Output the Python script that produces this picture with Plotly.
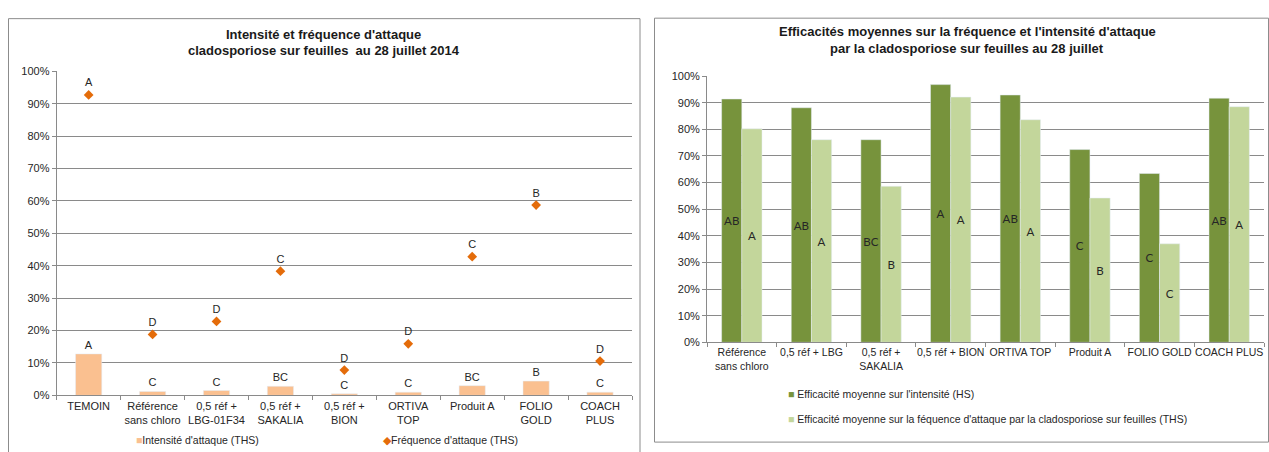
import plotly.graph_objects as go

# ---------------- data ----------------
cats_left = ["TEMOIN", "Référence<br>sans chloro", "0,5 réf +<br>LBG-01F34", "0,5 réf +<br>SAKALIA",
             "0,5 réf +<br>BION", "ORTIVA<br>TOP", "Produit A", "FOLIO<br>GOLD", "COACH<br>PLUS"]
intensite = [0.128, 0.012, 0.015, 0.028, 0.005, 0.010, 0.030, 0.044, 0.010]
frequence = [0.927, 0.188, 0.228, 0.383, 0.078, 0.159, 0.428, 0.587, 0.106]
lettres_intensite = ["A", "C", "C", "BC", "C", "C", "BC", "B", "C"]
lettres_frequence = ["A", "D", "D", "C", "D", "D", "C", "B", "D"]

cats_right = ["Référence<br>sans chloro", "0,5 réf + LBG", "0,5 réf +<br>SAKALIA", "0,5 réf + BION",
              "ORTIVA TOP", "Produit A", "FOLIO GOLD", "COACH PLUS"]
eff_intensite = [0.914, 0.881, 0.761, 0.968, 0.929, 0.724, 0.634, 0.917]
eff_frequence = [0.802, 0.761, 0.586, 0.921, 0.836, 0.542, 0.370, 0.885]
lettres_eff_int = ["AB", "AB", "BC", "A", "AB", "C", "C", "AB"]
lettres_eff_freq = ["A", "A", "B", "A", "A", "B", "C", "A"]

title_left = ["Intensité et fréquence d'attaque", "cladosporiose sur feuilles  au 28 juillet 2014"]
title_right = ["Efficacités moyennes sur la fréquence et l'intensité d'attaque",
               "par la cladosporiose sur feuilles au 28 juillet"]
legend_left = ["Intensité d'attaque (THS)", "Fréquence d'attaque (THS)"]
legend_right = ["Efficacité moyenne sur l'intensité (HS)",
                "Efficacité moyenne sur la féquence d'attaque par la cladosporiose sur feuilles (THS)"]

# ---------------- style ----------------
W, H = 1269, 452
FONT = "Liberation Sans, Arial, sans-serif"
GRID = "#8a8a8a"
PEACH = "#FAC090"
ORANGE = "#E46C0A"
DKGREEN = "#77933C"
LTGREEN = "#C3D69B"
TXT = "#262626"


def px(x):
    return x / W


def py(y):
    return 1 - y / H


fig = go.Figure()

fig.add_trace(go.Bar(
    x=cats_left, y=intensite, name=legend_left[0], marker_color=PEACH, width=0.41,
    text=lettres_intensite, textposition="outside", cliponaxis=False,
    textfont=dict(family=FONT, size=11, color=TXT), showlegend=False,
    xaxis="x", yaxis="y"))
fig.add_trace(go.Scatter(
    x=cats_left, y=frequence, name=legend_left[1], mode="markers+text",
    marker=dict(symbol="diamond", size=7.5, color=ORANGE),
    text=lettres_frequence, textposition="top center", cliponaxis=False,
    textfont=dict(family=FONT, size=11, color=TXT), showlegend=False,
    xaxis="x", yaxis="y"))

fig.add_trace(go.Bar(
    x=cats_right, y=eff_intensite, name=legend_right[0], marker_color=DKGREEN,
    width=0.29, offset=-0.29, text=lettres_eff_int, textposition="inside",
    insidetextanchor="middle", textangle=0, constraintext="none",
    textfont=dict(family="Lato, sans-serif", size=11.5, color=TXT), showlegend=False,
    xaxis="x2", yaxis="y2"))
fig.add_trace(go.Bar(
    x=cats_right, y=eff_frequence, name=legend_right[1], marker_color=LTGREEN,
    width=0.29, offset=0.0, text=lettres_eff_freq, textposition="inside",
    insidetextanchor="middle", textangle=0, constraintext="none",
    textfont=dict(family="Lato, sans-serif", size=11.5, color=TXT), showlegend=False,
    xaxis="x2", yaxis="y2"))

yaxis_common = dict(range=[0, 1], dtick=0.1, tickformat=".0%", showgrid=True,
                    gridcolor=GRID, gridwidth=1, ticks="outside", ticklen=4,
                    tickcolor=GRID, zeroline=False, fixedrange=True,
                    showline=True, linecolor=GRID, linewidth=1,
                    tickfont=dict(family=FONT, size=11, color=TXT))
xaxis_common = dict(type="category", ticks="outside", tickson="boundaries", ticklen=4,
                    tickcolor=GRID, showgrid=False, fixedrange=True, tickangle=0,
                    showline=True, linecolor=GRID, linewidth=1)

fig.update_layout(
    width=W, height=H, margin=dict(l=0, r=0, t=0, b=0),
    paper_bgcolor="white", plot_bgcolor="white", barmode="overlay",
    xaxis=dict(domain=[px(56.7), px(632)], anchor="y", range=[-0.5, 8.5],
               tickfont=dict(family=FONT, size=11, color=TXT), **xaxis_common),
    yaxis=dict(domain=[py(400), py(67)], anchor="x", **yaxis_common),
    xaxis2=dict(domain=[px(707), px(1264)], anchor="y2", range=[-0.5, 7.5],
                tickfont=dict(family=FONT, size=10.5, color=TXT), **xaxis_common),
    yaxis2=dict(domain=[py(345.5), py(72)], anchor="x2", **yaxis_common),
)

# chart borders
border = dict(color="#8c8c8c", width=1)
fig.add_shape(type="line", xref="paper", yref="paper", x0=px(8.5), x1=px(8.5), y0=py(13), y1=py(460), line=border)
fig.add_shape(type="line", xref="paper", yref="paper", x0=px(8.5), x1=px(640), y0=py(13), y1=py(13), line=border)
fig.add_shape(type="line", xref="paper", yref="paper", x0=px(640), x1=px(640), y0=py(13), y1=py(460), line=border)
fig.add_shape(type="rect", xref="paper", yref="paper", x0=px(654.5), x1=px(1268.5), y0=py(448), y1=py(12.5), line=border)

# titles
for txt, cx, cy in [(title_left[0], 323.5, 29.5), (title_left[1], 323.5, 45.5),
                    (title_right[0], 967, 26), (title_right[1], 967, 43.5)]:
    fig.add_annotation(text="<b>%s</b>" % txt, x=px(cx), y=py(cy), xref="paper", yref="paper",
                       showarrow=False, xanchor="center", yanchor="middle",
                       font=dict(family=FONT, size=13, color="#1a1a1a"))

# legends
leg_font = dict(family=FONT, size=10.5, color=TXT)
fig.add_annotation(text="<span style='color:%s'>■</span>%s" % (PEACH, legend_left[0]),
                   x=px(134), y=py(446), xref="paper", yref="paper", showarrow=False,
                   xanchor="left", yanchor="middle", font=leg_font)
fig.add_annotation(text="<span style='color:%s'>◆</span>%s" % (ORANGE, legend_left[1]),
                   x=px(381), y=py(446), xref="paper", yref="paper", showarrow=False,
                   xanchor="left", yanchor="middle", font=leg_font)
fig.add_annotation(text="<span style='color:%s'>■</span> %s" % (DKGREEN, legend_right[0]),
                   x=px(786), y=py(399), xref="paper", yref="paper", showarrow=False,
                   xanchor="left", yanchor="middle", font=leg_font)
fig.add_annotation(text="<span style='color:%s'>■</span> %s" % (LTGREEN, legend_right[1]),
                   x=px(786), y=py(424), xref="paper", yref="paper", showarrow=False,
                   xanchor="left", yanchor="middle", font=leg_font)

fig.write_html("out.html")
